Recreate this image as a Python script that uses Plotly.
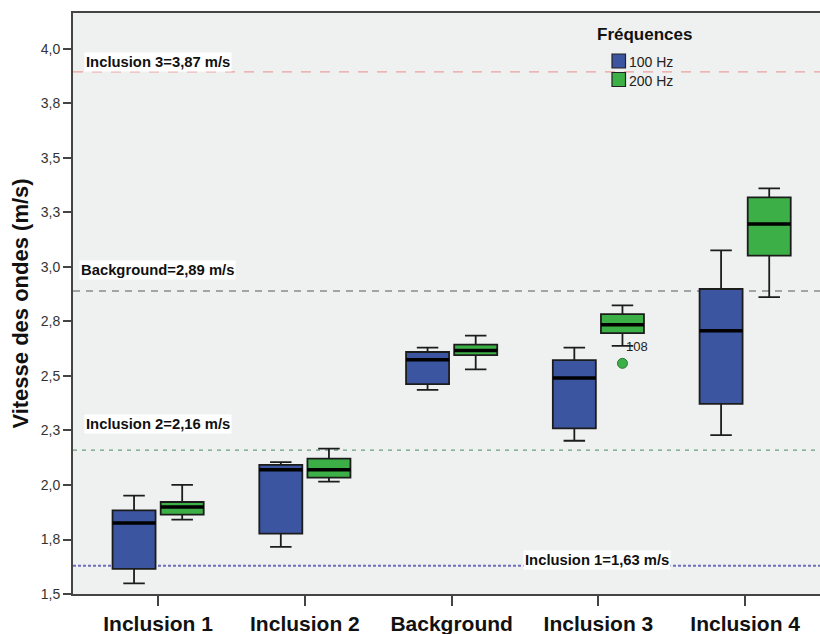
import plotly.graph_objects as go

categories = ["Inclusion 1", "Inclusion 2", "Background", "Inclusion 3", "Inclusion 4"]
series_names = ["100 Hz", "200 Hz"]

# 100 Hz box statistics
q1_100 = [1.615, 1.777, 2.463, 2.260, 2.372]
med_100 = [1.826, 2.070, 2.575, 2.491, 2.708]
q3_100 = [1.884, 2.092, 2.610, 2.573, 2.899]
lo_100 = [1.549, 1.716, 2.436, 2.203, 2.229]
hi_100 = [1.951, 2.105, 2.630, 2.630, 3.076]

# 200 Hz box statistics
q1_200 = [1.864, 2.034, 2.596, 2.697, 3.052]
med_200 = [1.899, 2.070, 2.617, 2.735, 3.197]
q3_200 = [1.922, 2.121, 2.644, 2.784, 3.319]
lo_200 = [1.841, 2.015, 2.530, 2.638, 2.862]
hi_200 = [2.001, 2.167, 2.685, 2.824, 3.361]

# outlier (200 Hz, Inclusion 3)
outlier_cat = 3
outlier_val = 2.558
outlier_label = "108"

# reference lines
ref_values = [1.63, 2.16, 2.89, 3.895]
ref_labels = ["Inclusion 1=1,63 m/s", "Inclusion 2=2,16 m/s", "Background=2,89 m/s", "Inclusion 3=3,87 m/s"]

y_tickvals = [1.5, 1.75, 2.0, 2.25, 2.5, 2.75, 3.0, 3.25, 3.5, 3.75, 4.0]
y_ticktext = ["1,5", "1,8", "2,0", "2,3", "2,5", "2,8", "3,0", "3,3", "3,5", "3,8", "4,0"]

FONT = "Liberation Sans, Arial, sans-serif"
OFF = 0.164
BW = 0.293
BLUE = "#3b55a0"
GREEN = "#3cb047"
EDGE = "#1c1c1c"

fig = go.Figure()
idx = list(range(len(categories)))

stats = [
    (series_names[0], -OFF, BLUE, q1_100, med_100, q3_100, lo_100, hi_100),
    (series_names[1], OFF, GREEN, q1_200, med_200, q3_200, lo_200, hi_200),
]
for name, off, col, q1, med, q3, lo, hi in stats:
    xs = [i + off for i in idx]
    fig.add_trace(go.Box(
        name=name, x=xs, q1=q1, median=med, q3=q3, lowerfence=lo, upperfence=hi,
        width=BW, whiskerwidth=0.5, fillcolor=col,
        line=dict(color=EDGE, width=1.8), boxpoints=False, hoverinfo="skip",
        showlegend=False,
    ))
    # thicker median bars
    mx, my = [], []
    for x, m in zip(xs, med):
        mx += [x - BW / 2, x + BW / 2, None]
        my += [m, m, None]
    fig.add_trace(go.Scatter(x=mx, y=my, mode="lines",
                             line=dict(color="#000", width=3.5),
                             showlegend=False, hoverinfo="skip"))

fig.add_trace(go.Scatter(
    x=[outlier_cat + OFF], y=[outlier_val], mode="markers",
    marker=dict(color=GREEN, size=10, line=dict(color="#2a7a33", width=1)),
    showlegend=False, hoverinfo="skip",
))
fig.add_annotation(
    x=outlier_cat + OFF, y=outlier_val, text=outlier_label, showarrow=False,
    xanchor="left", yanchor="middle", xshift=2, yshift=17,
    font=dict(family=FONT, size=13, color="#222"),
)

line_styles = [
    dict(color="#6f6fc0", width=2, dash="3px,2px"),
    dict(color="#6aa07e", width=1.2, dash="4px,5px"),
    dict(color="#8a8a8a", width=1.6, dash="7px,6px"),
    dict(color="#eba0a0", width=1.4, dash="10px,9px"),
]
for v, st in zip(ref_values, line_styles):
    fig.add_shape(type="line", xref="paper", x0=0, x1=1, yref="y", y0=v, y1=v,
                  line=st, layer="below")

label_pos = [
    dict(x=0.701, xanchor="center", yshift=6),
    dict(x=0.0145, xanchor="left", yshift=26),
    dict(x=0.008, xanchor="left", yshift=21),
    dict(x=0.0145, xanchor="left", yshift=10),
]
for v, t, p in zip(ref_values, ref_labels, label_pos):
    fig.add_annotation(
        xref="paper", x=p["x"], xanchor=p["xanchor"], y=v, yanchor="middle",
        yshift=p["yshift"], text="<b>" + t + "</b>", showarrow=False,
        bgcolor="white", borderpad=1,
        font=dict(family=FONT, size=14.8, color="#111"),
    )

# custom legend (paper coords of the plot area)
def px_x(p):
    return (p - 73) / 747.0

def px_y(p):
    return (594 - p) / 581.0

fig.add_annotation(xref="paper", yref="paper", x=px_x(644), y=px_y(34),
                   text="<b>Fréquences</b>", showarrow=False,
                   xanchor="center", yanchor="middle",
                   font=dict(family=FONT, size=17, color="#111"))
leg_rows = [(54, 68, 62), (72.5, 86.5, 81)]
for (name, _, col, *_r), (t0, t1, tc) in zip(stats, leg_rows):
    fig.add_shape(type="rect", xref="paper", yref="paper",
                  x0=px_x(612), x1=px_x(625.5), y0=px_y(t1), y1=px_y(t0),
                  fillcolor=col, line=dict(color="#222", width=1.2))
    fig.add_annotation(xref="paper", yref="paper", x=px_x(627), y=px_y(tc),
                       text=name, showarrow=False, xanchor="left", yanchor="middle",
                       font=dict(family=FONT, size=14, color="#222"))

fig.update_layout(
    width=820, height=634,
    margin=dict(l=73, r=0, t=13, b=40),
    paper_bgcolor="white", plot_bgcolor="#eff1f0",
    font=dict(family=FONT, color="#222"),
    showlegend=False,
    xaxis=dict(
        range=[-0.58, 4.51], tickvals=idx, ticktext=["<b>" + c + "</b>" for c in categories],
        tickfont=dict(size=21, color="#111"), ticks="outside", ticklen=10,
        tickwidth=2, tickcolor="#444", showline=True, linecolor="#444", linewidth=2,
        mirror=True, showgrid=False, zeroline=False, automargin=False,
    ),
    yaxis=dict(
        range=[1.5, 4.165], tickvals=y_tickvals, ticktext=y_ticktext,
        tickfont=dict(size=14, color="#333"), ticks="outside", ticklen=8,
        tickwidth=2, tickcolor="#444", showline=True, linecolor="#444", linewidth=2,
        mirror=True, showgrid=False, zeroline=False, automargin=False,
        title=dict(text="<b>Vitesse des ondes (m/s)</b>", font=dict(size=22, color="#111"),
                   standoff=6),
    ),
)

fig.write_html("out.html", config={"displayModeBar": False},
               post_script="document.body.style.margin='0';")
